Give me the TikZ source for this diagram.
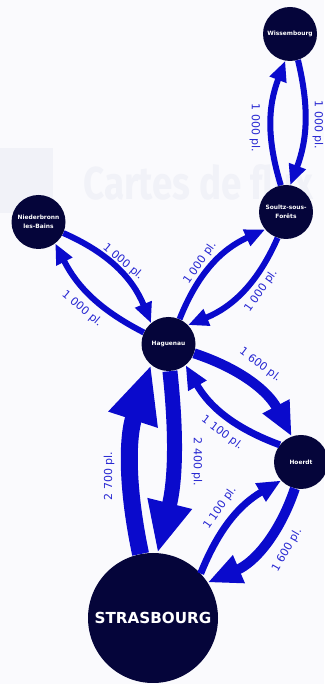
\documentclass[tikz,border=0pt]{standalone}
\usepackage{fontspec}
\setmainfont{DejaVu Sans}
\newfontfamily\markfont{Fira Sans}
\usepackage{tikz}
\usetikzlibrary{positioning,calc,arrows.meta}
\definecolor{paper}{HTML}{FAFAFD}
\definecolor{ghost}{HTML}{F1F2F8}
\definecolor{navy}{HTML}{05053A}
\definecolor{flowblue}{HTML}{0A0ACC}

\begin{document}
\begin{tikzpicture}[
  x=1pt, y=1pt,
  town/.style={circle, fill=navy, text=white, inner sep=0pt, minimum size=54pt,
      align=center, font=\fontsize{5.9}{9}\selectfont\bfseries},
  flow/.style={draw=flowblue, -{Triangle[length=0pt 3.4, width=0pt 2.8]}, bend left=#1},
  flow/.default=20,
  f1000/.style={line width=6pt},
  f1100/.style={line width=7pt},
  f1600/.style={line width=10pt},
  f2400/.style={line width=15pt},
  f2700/.style={line width=17pt},
  lbl/.style={text=flowblue!88!white, inner sep=0pt, font=\fontsize{11}{13}\selectfont},
]
\useasboundingbox (0,0) rectangle (324,684);
\fill[paper] (0,0) rectangle (324,684);
\fill[ghost] (0,471) rectangle (53,536);
\node[anchor=base west, inner sep=0pt, text=ghost] (mark) at (83,484)
   {\scalebox{0.8}[1]{\markfont\bfseries\fontsize{46}{50}\selectfont Cartes de flux}};

% towns
\node[town] (wiss)   at (290,650) {Wissembourg};
\node[town] (soultz) at (286,472) {Soultz-sous-\\Forêts};
\node[town] (nied)   at (38.5,462) {Niederbronn\\les-Bains};
\node[town] (hag)    at (168.5,340) {Haguenau};
\node[town] (hoerdt) at (301,222) {Hoerdt};
\node[town, minimum size=130pt, font=\fontsize{15.2}{18}\selectfont\bfseries] (stras) at (153,66) {STRASBOURG};

% flows
\draw[flow=19, f1000] (soultz.101) to (wiss.260);
\draw[flow=17, f1000] (wiss.287) to (soultz.81);
\draw[flow=22, f1000] (nied.336) to (hag.130);
\draw[flow=18, f1000] (hag.155) to (nied.308);
\draw[flow=22, f1000] (hag.66) to (soultz.220);
\draw[flow=22, f1000] (soultz.252) to (hag.44);
\draw[flow=22, f1600] (hag.340) to (hoerdt.110);
\draw[flow=20, f1100] (hoerdt.141) to (hag.309);
\draw[flow=15, f2700] (stras.101) to (hag.230);
\draw[flow=10, f2400] (hag.273) to (stras.86);
\draw[flow=19, f1100] (stras.43) to (hoerdt.223);
\draw[flow=24, f1600] (hoerdt.257) to (stras.33);

% labels
\node[lbl, rotate=-90] (l-sw) at (255,556) {1 000 pl.};
\node[lbl, rotate=-90] (l-ws) at (318,559) {1 000 pl.};
\node[lbl, rotate=-40] (l-nh) at (123,422) {1 000 pl.};
\node[lbl, rotate=-40] (l-hn) at (82,375) {1 000 pl.};
\node[lbl, rotate=55]  (l-hs) at (200,421) {1 000 pl.};
\node[lbl, rotate=55]  (l-sh) at (261,393) {1 000 pl.};
\node[lbl, rotate=-37] (l-hh) at (260,319) {1 600 pl.};
\node[lbl, rotate=-37] (l-oh) at (222,251) {1 100 pl.};
\node[lbl, rotate=90]  (l-sg) at (109,208) {2 700 pl.};
\node[lbl, rotate=-90] (l-gs) at (197,222) {2 400 pl.};
\node[lbl, rotate=55]  (l-so) at (220,176) {1 100 pl.};
\node[lbl, rotate=60]  (l-os) at (287,134) {1 600 pl.};
\end{tikzpicture}
\end{document}
